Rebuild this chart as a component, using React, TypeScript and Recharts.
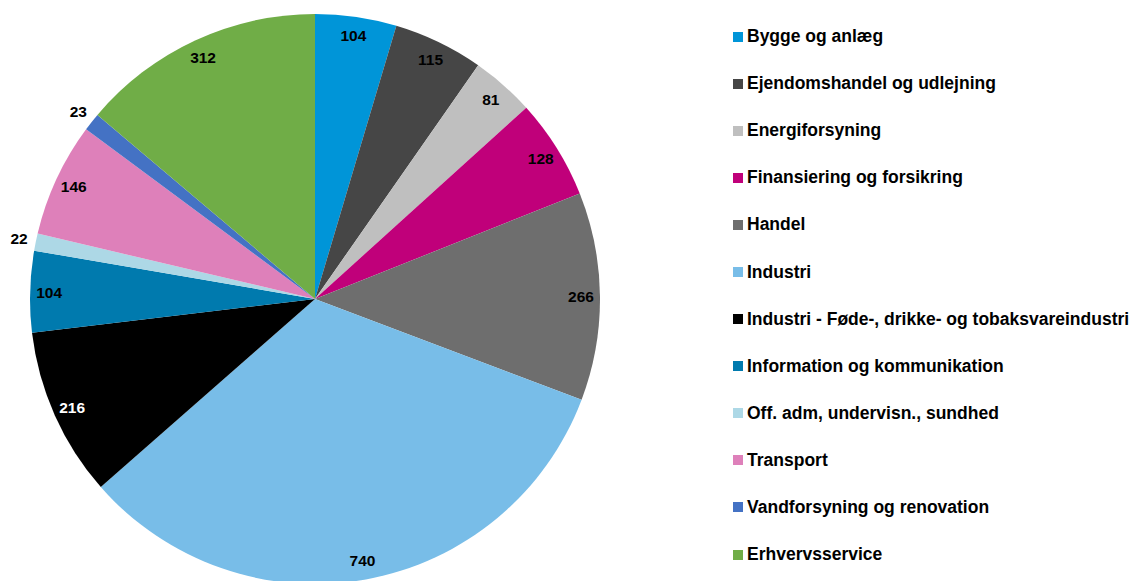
import { Cell, Legend, Pie, PieChart } from "recharts";

const categories = [
  "Bygge og anlæg",
  "Ejendomshandel og udlejning",
  "Energiforsyning",
  "Finansiering og forsikring",
  "Handel",
  "Industri",
  "Industri - Føde-, drikke- og tobaksvareindustri",
  "Information og kommunikation",
  "Off. adm, undervisn., sundhed",
  "Transport",
  "Vandforsyning og renovation",
  "Erhvervsservice",
];

const values = [104, 115, 81, 128, 266, 740, 216, 104, 22, 146, 23, 312];

const colors = [
  "#0095d8",
  "#464646",
  "#bfbfbf",
  "#c0007a",
  "#6e6e6e",
  "#78bde8",
  "#000000",
  "#007aae",
  "#add8e6",
  "#de80ba",
  "#4472c4",
  "#70ad47",
];

const labelColors = categories.map((_, i) => (i === 6 ? "#ffffff" : "#000000"));

const data = categories.map((name, i) => ({ name, value: values[i] }));

const FONT = "'Liberation Sans', Arial, sans-serif";
const RADIAN = Math.PI / 180;

function renderLabel(props: any) {
  const { cx, cy, midAngle, value, index } = props;
  // small slices get their label just outside the pie
  const r = value < 50 ? 302 : 266;
  const x = cx + r * Math.cos(-midAngle * RADIAN);
  const y = cy + r * Math.sin(-midAngle * RADIAN);
  return (
    <text
      x={x}
      y={y}
      textAnchor="middle"
      dominantBaseline="central"
      fill={labelColors[index]}
      fontFamily={FONT}
      fontWeight="bold"
      fontSize={15.5}
    >
      {value}
    </text>
  );
}

function renderLegend() {
  return (
    <div style={{ fontFamily: FONT }}>
      {categories.map((name, i) => (
        <div
          key={name}
          style={{ display: "flex", alignItems: "center", height: 47.1, whiteSpace: "nowrap" }}
        >
          <div style={{ width: 10, height: 10, background: colors[i], marginRight: 4, flexShrink: 0 }} />
          <span style={{ fontSize: 17.5, fontWeight: "bold", color: "#000" }}>{name}</span>
        </div>
      ))}
    </div>
  );
}

export default function App() {
  return (
    <div style={{ position: "absolute", left: 0, top: 0, width: 1134, height: 581, background: "#fff" }}>
      <PieChart width={1134} height={581} margin={{ top: 0, right: 0, bottom: 0, left: 0 }}>
        <Pie
          data={data}
          dataKey="value"
          nameKey="name"
          cx={315}
          cy={299}
          outerRadius={285}
          startAngle={90}
          endAngle={-270}
          stroke="none"
          label={renderLabel}
          labelLine={false}
          isAnimationActive={false}
        >
          {data.map((d, i) => (
            <Cell key={d.name} fill={colors[i]} />
          ))}
        </Pie>
        <Legend
          content={renderLegend}
          layout="vertical"
          verticalAlign="top"
          align="right"
          wrapperStyle={{ left: 733, top: 13, width: 400 }}
        />
      </PieChart>
    </div>
  );
}
